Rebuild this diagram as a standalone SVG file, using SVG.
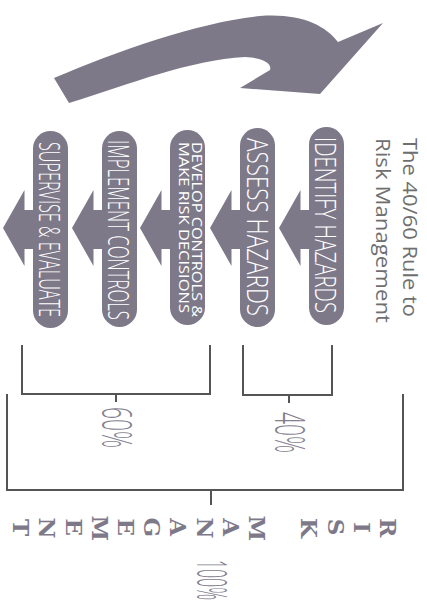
<svg xmlns="http://www.w3.org/2000/svg" width="427" height="607" viewBox="0 0 427 607">
<style>
.shape{fill:#7e7989;}
.pill{fill:#7e7989;}
.ptxt{fill:#ffffff;font-family:"Open Sans","Liberation Sans",sans-serif;font-weight:300;font-size:30px;}
.stxt{fill:#ffffff;font-family:"Open Sans","Liberation Sans",sans-serif;font-weight:400;font-size:14px;}
.title{fill:#6f6f6f;font-family:"Open Sans","Liberation Sans",sans-serif;font-size:20px;}
.pct{fill:#847f8e;font-family:"Open Sans","Liberation Sans",sans-serif;font-weight:300;font-size:42px;}
.rm{fill:#7e7989;font-family:"DejaVu Serif","Liberation Serif",serif;font-weight:bold;font-size:23px;}
.br{fill:none;stroke:#555555;stroke-width:2;}
</style>
<defs>
<polygon id="blk" points="-30,228 -8.5,190 -8.5,210 6,210 6,249 -8.5,249 -8.5,266"/>
</defs>

<g id="cycle-arrow">
<path class="shape" d="M54,78 C120,50 200,22 260,16 C300,13 325,25 338,42 L383,23 L320,94 L240,88 L270,70 C272,64 265,58 245,57 C190,60 130,84 69,103 Z"/>
</g>

<g id="title">
<text class="title" transform="translate(403,138) rotate(90)" textLength="179" lengthAdjust="spacingAndGlyphs">The 40/60 Rule to</text>
<text class="title" transform="translate(376,138) rotate(90)" textLength="185" lengthAdjust="spacingAndGlyphs">Risk Management</text>
</g>

<g id="connectors">
<use href="#blk" class="shape" transform="translate(309,0)"/>
<use href="#blk" class="shape" transform="translate(240,0)"/>
<use href="#blk" class="shape" transform="translate(170,0)"/>
<use href="#blk" class="shape" transform="translate(102,0)"/>
<use href="#blk" class="shape" transform="translate(33,0)"/>
<path class="br" d="M243,345 V395 H332 V345 M289,395 V403"/>
<path class="br" d="M22,345 V394 H210 V345 M116,394 V402"/>
<path class="br" d="M7,394 V490 H403 V394 M211,490 V505"/>
</g>

<g id="identify-hazards">
<rect class="pill" x="309" y="127" width="35" height="198" rx="17.5"/>
<text class="ptxt" transform="translate(315,137) rotate(90)" textLength="176" lengthAdjust="spacingAndGlyphs">IDENTIFY HAZARDS</text>
</g>

<g id="assess-hazards">
<rect class="pill" x="240" y="128" width="35" height="199" rx="17.5"/>
<text class="ptxt" transform="translate(247,138) rotate(90)" textLength="178" lengthAdjust="spacingAndGlyphs">ASSESS HAZARDS</text>
</g>

<g id="develop-controls">
<rect class="pill" x="170" y="130" width="35" height="195" rx="17.5"/>
<text class="stxt" transform="translate(192,142) rotate(90)" textLength="175" lengthAdjust="spacingAndGlyphs">DEVELOP CONTROLS &amp;</text>
<text class="stxt" transform="translate(179,142) rotate(90)" textLength="171" lengthAdjust="spacingAndGlyphs">MAKE RISK DECISIONS</text>
</g>

<g id="implement-controls">
<rect class="pill" x="102" y="131" width="35" height="196" rx="17.5"/>
<text class="ptxt" transform="translate(108,140) rotate(90)" textLength="180" lengthAdjust="spacingAndGlyphs">IMPLEMENT CONTROLS</text>
</g>

<g id="supervise-evaluate">
<rect class="pill" x="33" y="131" width="35" height="197" rx="17.5"/>
<text class="ptxt" transform="translate(39,142) rotate(90)" textLength="175" lengthAdjust="spacingAndGlyphs">SUPERVISE &amp; EVALUATE</text>
</g>

<g id="labels">
<text class="pct" transform="translate(275,412) rotate(90) scale(0.5,1)" textLength="82" lengthAdjust="spacingAndGlyphs">40%</text>
<text class="pct" transform="translate(102,407) rotate(90) scale(0.5,1)" textLength="82" lengthAdjust="spacingAndGlyphs">60%</text>
<text class="pct" transform="translate(197,560) rotate(90) scale(0.4,1)" textLength="100" lengthAdjust="spacingAndGlyphs">100%</text>
<text class="rm" rotate="90" x="379.5 353.5 327.5 300.5 274.5 248.5 222.5 196.5 169.5 143.5 117.5 91.5 65.5 38.5 12.5" y="518.2 522.2 518.7 518 527 515.6 518.2 517.4 518.2 517.6 518.6 515.6 518.6 517.4 519">RISK MANAGEMENT</text>
</g>
</svg>
